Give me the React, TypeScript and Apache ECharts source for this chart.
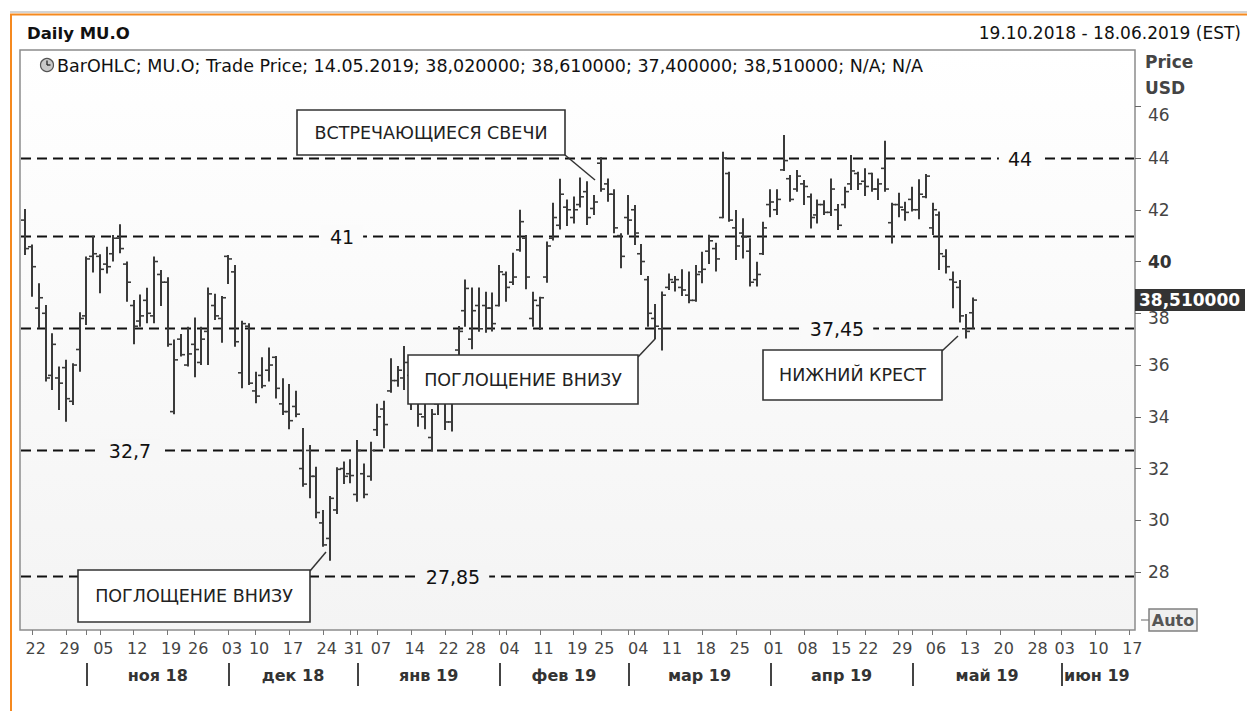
import { useEffect, useRef } from 'react';
import * as echarts from 'echarts';

// ---------- data ----------
const HOLIDAYS = ['2018-11-22', '2018-12-05', '2018-12-25', '2019-01-01', '2019-01-21', '2019-02-18', '2019-04-19', '2019-05-27'];

function tradingDays(from: string, to: string): string[] {
  const out: string[] = [];
  const d = new Date(from + 'T00:00:00Z');
  const end = new Date(to + 'T00:00:00Z').getTime();
  while (d.getTime() <= end) {
    const wd = d.getUTCDay();
    const s = d.toISOString().slice(0, 10);
    if (wd !== 0 && wd !== 6 && HOLIDAYS.indexOf(s) < 0) out.push(s);
    d.setUTCDate(d.getUTCDate() + 1);
  }
  return out;
}
const DATES = tradingDays('2018-10-19', '2019-06-18');

const OPEN = [
  41.6, 40.57, 38.2, 38.0, 35.6, 35.5,
  35.9, 34.6, 36.6, 37.9, 40.2,
  40.2, 39.9, 40.3, 40.9, 39.9,
  38.3, 37.7, 38.5, 37.9, 39.5,
  39.2, 34.2, 37.0, 36.0,
  36.8, 36.1, 37.3, 38.3, 37.8,
  40.2, 39.6, 35.7, 37.5,
  35.0, 35.6, 35.8, 36.3, 34.5,
  34.2, 34.4, 32.0, 32.7, 31.7,
  29.9, 29.3, 30.4, 32.0,
  31.8, 31.0, 31.8, 31.7,
  33.5, 34.3, 35.0, 35.4, 35.5,
  35.6, 35.0, 34.0, 33.2, 34.5,
  34.9, 33.8, 36.58, 38.1,
  37.0, 38.3, 38.3, 38.2, 38.3,
  39.5, 39.2, 40.45, 40.9, 37.8,
  38.3, 39.4, 40.9, 41.4, 42.1,
  41.7, 42.2, 42.7, 42.05,
  43.8, 43.0, 42.6, 41.0, 41.7,
  42.0, 40.3, 39.3, 37.8, 37.4,
  39.0, 39.2, 39.0, 38.7, 38.5,
  39.6, 40.4, 40.5, 41.7, 43.4,
  41.3, 41.1, 40.4, 39.3, 40.3,
  42.2, 42.0, 43.54, 43.2, 42.8,
  43.0, 42.5, 41.8, 42.2, 41.9,
  42.0, 42.2, 43.0, 43.4,
  43.1, 43.4, 42.8, 43.6, 41.5,
  42.2, 42.0, 42.4, 42.0, 42.5,
  41.3, 41.8, 40.2, 39.3, 39.0,
  37.4, 38.02,
];
const HIGH = [
  42.03, 40.66, 39.16, 38.32, 37.23, 35.94,
  36.2, 36.07, 38.04, 40.19, 41.0,
  40.28, 40.57, 41.02, 41.44, 40.0,
  38.51, 38.73, 38.99, 40.19, 39.67,
  39.39, 36.99, 37.2, 37.48,
  37.84, 37.48, 39.0, 38.75, 38.67,
  40.25, 39.87, 37.71, 37.61,
  35.74, 36.3, 36.68, 36.35, 35.49,
  35.27, 35.01, 33.57, 32.91, 32.07,
  30.4, 30.94, 32.05, 32.27,
  32.36, 33.1, 32.2, 33.04,
  34.5, 34.62, 36.26, 35.96, 36.74,
  35.8, 35.6, 35.2, 34.3, 35.5,
  35.0, 35.2, 37.51, 39.31,
  39.0, 39.0, 38.83, 38.8, 39.87,
  39.61, 40.34, 42.0, 41.02, 38.83,
  38.64, 40.77, 42.27, 43.2, 42.4,
  42.51, 43.25, 43.1, 42.57,
  44.03, 43.21, 42.79, 41.09, 42.57,
  42.18, 40.68, 39.44, 38.36, 38.84,
  39.54, 39.44, 39.7, 39.61, 39.87,
  40.38, 41.03, 40.73, 44.24, 43.47,
  41.99, 41.67, 40.9, 39.99, 41.54,
  42.79, 42.79, 44.89, 43.34, 43.54,
  43.15, 42.63, 42.4, 42.37, 43.21,
  42.22, 42.89, 44.12, 43.47,
  43.6, 43.43, 43.21, 44.67, 42.27,
  42.66, 42.31, 42.89, 43.18, 43.38,
  42.27, 41.93, 40.47, 39.61, 39.29,
  37.97, 38.61,
];
const LOW = [
  40.25, 38.64, 37.42, 35.36, 35.04, 34.26,
  33.81, 34.46, 35.74, 37.55, 39.58,
  38.77, 39.54, 40.0, 40.32, 38.45,
  36.8, 37.48, 37.61, 37.61, 38.28,
  36.71, 34.1, 36.33, 35.94,
  35.53, 36.0, 36.0, 37.74, 36.86,
  39.13, 36.71, 35.1, 35.23,
  34.52, 35.1, 35.36, 34.71, 34.07,
  33.52, 33.98, 31.3, 30.85, 30.08,
  28.98, 28.44, 30.24, 31.4,
  31.43, 30.72, 30.85, 31.53,
  33.26, 32.78, 34.93, 35.16, 35.04,
  34.26, 33.62, 33.52, 32.65, 34.07,
  33.49, 33.43, 35.8, 37.48,
  36.61, 37.29, 37.25, 37.3, 38.26,
  38.45, 39.09, 40.38, 38.93, 37.48,
  37.35, 39.18, 40.81, 41.24, 41.37,
  41.47, 42.09, 41.41, 41.8,
  42.7, 42.31, 41.09, 39.74, 41.03,
  40.64, 39.48, 37.48, 37.0, 36.56,
  38.9, 38.84, 38.67, 38.39, 38.45,
  39.16, 39.9, 39.61, 41.67, 41.54,
  40.06, 40.12, 39.03, 39.03, 40.25,
  41.71, 41.8, 43.5, 42.31, 42.7,
  42.18, 41.28, 41.47, 41.8, 41.76,
  41.22, 42.06, 42.76, 42.76,
  42.53, 42.7, 42.38, 42.7, 40.7,
  41.71, 41.58, 41.93, 41.63, 42.44,
  41.02, 39.67, 39.54, 38.19, 37.64,
  37.03, 37.40,
];
const CLOSE = [
  40.5, 39.8, 38.6, 35.5, 36.8, 35.3,
  34.7, 36.0, 37.8, 40.1, 40.3,
  39.7, 39.8, 40.9, 40.5, 39.2,
  37.5, 37.9, 38.0, 40.0, 39.2,
  36.8, 36.2, 36.4, 36.43,
  36.6, 37.0, 38.75, 37.9, 38.6,
  40.1, 36.9, 37.6, 35.3,
  34.8, 35.2, 36.0, 35.1, 34.2,
  33.85, 34.1, 31.4, 31.7, 30.3,
  29.05, 30.85, 31.97, 31.7,
  31.73, 32.7, 31.0, 32.7,
  34.0, 33.7, 35.4, 35.8, 36.1,
  34.8, 34.1, 34.9, 34.1, 35.3,
  33.8, 34.9, 37.3, 38.96,
  38.1, 37.4, 38.2, 37.6, 39.6,
  39.0, 39.4, 41.54, 39.4, 38.5,
  38.6, 40.6, 41.7, 42.6, 42.0,
  42.0, 42.5, 41.7, 42.3,
  42.8, 42.6, 41.3, 40.2, 41.6,
  41.1, 40.0, 38.0, 37.5, 38.7,
  39.3, 39.3, 38.9, 38.5, 39.5,
  39.7, 40.8, 40.1, 44.0, 41.6,
  40.6, 40.95, 39.2, 39.5, 41.3,
  42.3, 42.4, 43.9, 42.4, 43.3,
  42.9, 41.7, 42.2, 41.9, 42.8,
  41.4, 42.7, 43.5, 43.0,
  42.9, 42.8, 43.0, 42.8, 42.2,
  42.1, 41.9, 42.0, 42.6, 43.3,
  42.0, 40.3, 39.8, 39.2, 37.9,
  37.3, 38.51,
];

const PRICE_TICKS = [28, 30, 32, 34, 36, 38, 40, 42, 44, 46];
const LEVELS = [44, 41, 37.45, 32.7, 27.85];
const LEVEL_TEXT = ['44', '41', '37,45', '32,7', '27,85'];
const MONTH_LABELS = ['ноя 18', 'дек 18', 'янв 19', 'фев 19', 'мар 19', 'апр 19', 'май 19', 'июн 19'];
const LAST_PRICE = 38.51;
const LAST_PRICE_TEXT = '38,510000';
const TITLE = 'Daily MU.O';
const RANGE_TEXT = '19.10.2018 - 18.06.2019 (EST)';
const LEGEND_TEXT = 'BarOHLC; MU.O; Trade Price; 14.05.2019; 38,020000; 38,610000; 37,400000; 38,510000; N/A; N/A';
const NOTE_TEXT = ['ВСТРЕЧАЮЩИЕСЯ СВЕЧИ', 'ПОГЛОЩЕНИЕ ВНИЗУ', 'НИЖНИЙ КРЕСТ', 'ПОГЛОЩЕНИЕ ВНИЗУ'];

// ---------- layout ----------
const W = 1247;
const H = 711;
const BOX = { x: 20, y: 50, w: 1115, h: 580 };
const Y_MIN = 25.762;
const Y_MAX = 48.173;
const LEVEL_LABEL_X = [1020, 342, 837, 130, 453];
const NOTE_BOX = [
  { x: 297, y: 110, w: 268, h: 45, l: [565, 155, 595, 180] },
  { x: 408, y: 355, w: 230, h: 49, l: [638, 357, 655, 339] },
  { x: 763, y: 350, w: 179, h: 50, l: [942, 351, 958, 336] },
  { x: 78, y: 570, w: 232, h: 52, l: [310, 571, 326, 552] },
];
const FONT = '"DejaVu Sans", Verdana, sans-serif';
const BAR_COLOR = '#3a3a3a';

const WEEK_IDX = new Set<number>();
const MONTH_IDX: number[] = [];
DATES.forEach((d, k) => {
  if (k === 0) return;
  const cur = new Date(d + 'T00:00:00Z');
  const prev = new Date(DATES[k - 1] + 'T00:00:00Z');
  if (cur.getUTCDay() <= prev.getUTCDay() || cur.getTime() - prev.getTime() >= 7 * 86400000) WEEK_IDX.add(k);
  if (cur.getUTCMonth() !== prev.getUTCMonth()) MONTH_IDX.push(k);
});
const TICK_IDX = new Set<number>([...Array.from(WEEK_IDX), ...MONTH_IDX]);

function bgAt(y: number): string {
  const t = Math.max(0, Math.min(1, (y - BOX.y) / BOX.h));
  const c = Math.round(255 - 11 * t);
  return `rgb(${c},${c},${c})`;
}

function buildOption(): any {
  const data = OPEN.map((o, i) => [i, o, HIGH[i], LOW[i], CLOSE[i]]);
  return {
    animation: false,
    backgroundColor: '#ffffff',
    grid: { left: 22, right: 108, top: BOX.y, bottom: H - BOX.y - BOX.h },
    xAxis: {
      type: 'category',
      data: DATES,
      boundaryGap: true,
      axisLine: { show: false },
      axisTick: {
        show: true,
        alignWithLabel: true,
        interval: (idx: number) => TICK_IDX.has(idx),
        length: 5,
        lineStyle: { color: '#777', width: 1 },
      },
      axisLabel: {
        interval: (idx: number) => WEEK_IDX.has(idx),
        formatter: (v: string) => v.slice(8, 10),
        fontSize: 16,
        fontFamily: FONT,
        color: '#444',
        margin: 10,
        padding: [0, 0, 0, 7],
      },
      splitLine: { show: false },
    },
    yAxis: {
      type: 'value',
      position: 'right',
      offset: -4,
      min: Y_MIN,
      max: Y_MAX,
      axisLine: { show: false },
      splitLine: { show: false },
      axisTick: { show: true, customValues: PRICE_TICKS, length: 6, lineStyle: { color: '#666' } },
      axisLabel: {
        customValues: PRICE_TICKS,
        margin: 13,
        fontSize: 17,
        fontFamily: FONT,
        color: '#444',
        formatter: (v: number) => (v === 46 ? '{s|46}' : v === 40 ? '{b|40}' : v === 38 ? '{d|38}' : String(v)),
        rich: {
          s: { padding: [18, 0, 0, 0], fontSize: 17, fontFamily: FONT, color: '#444' },
          d: { padding: [10, 0, 0, 0], fontSize: 17, fontFamily: FONT, color: '#444' },
          b: { fontWeight: 'bold', fontSize: 17, fontFamily: FONT, color: '#333' },
        },
      },
    },
    series: [
      {
        type: 'custom',
        z: 5,
        silent: true,
        encode: { x: 0, y: [1, 2, 3, 4] },
        data,
        renderItem: (_p: any, api: any) => {
          const i = api.value(0);
          const pO = api.coord([i, api.value(1)]);
          const pH = api.coord([i, api.value(2)]);
          const pL = api.coord([i, api.value(3)]);
          const pC = api.coord([i, api.value(4)]);
          const x = Math.round(pH[0]);
          const st = { stroke: BAR_COLOR, lineWidth: 2 };
          const ts = { stroke: BAR_COLOR, lineWidth: 1.6 };
          return {
            type: 'group',
            children: [
              { type: 'line', shape: { x1: x, y1: pH[1], x2: x, y2: pL[1] }, style: st },
              { type: 'line', shape: { x1: x - 4, y1: pO[1], x2: x, y2: pO[1] }, style: ts },
              { type: 'line', shape: { x1: x, y1: pC[1], x2: x + 4, y2: pC[1] }, style: ts },
            ],
          };
        },
      },
    ],
  };
}

function buildGraphics(chart: any): any[] {
  const yOf = (v: number) => chart.convertToPixel({ yAxisIndex: 0 }, v) as number;
  const xOf = (k: number) => chart.convertToPixel({ xAxisIndex: 0 }, DATES[k]) as number;
  const els: any[] = [];

  // frame lines
  els.push({ type: 'line', z: 1, shape: { x1: 10, y1: 12, x2: W, y2: 12 }, style: { stroke: '#a8a8a8', lineWidth: 1 } });
  els.push({ type: 'line', z: 1, shape: { x1: 10, y1: 14.5, x2: W, y2: 14.5 }, style: { stroke: '#f5891f', lineWidth: 2 } });
  els.push({ type: 'line', z: 1, shape: { x1: 11, y1: 14, x2: 11, y2: H }, style: { stroke: '#f5891f', lineWidth: 2 } });

  // header
  els.push({ type: 'text', z: 20, x: 27, y: 33, style: { text: TITLE, fill: '#111', fontSize: 16.5, fontWeight: 'bold', fontFamily: FONT, align: 'left', verticalAlign: 'middle' } });
  els.push({ type: 'text', z: 20, x: 1241, y: 33, style: { text: RANGE_TEXT, fill: '#111', fontSize: 17, fontFamily: FONT, align: 'right', verticalAlign: 'middle' } });

  // plot box
  els.push({
    type: 'rect', z: 0,
    shape: { x: BOX.x, y: BOX.y, width: BOX.w, height: BOX.h },
    style: {
      fill: new echarts.graphic.LinearGradient(0, 0, 0, 1, [
        { offset: 0, color: '#ffffff' },
        { offset: 1, color: '#f4f4f4' },
      ]),
      stroke: '#8c8c8c',
      lineWidth: 1.5,
    },
  });

  // legend line with clock icon
  els.push({ type: 'circle', z: 20, shape: { cx: 47, cy: 65, r: 6.5 }, style: { fill: '#c9c9c9', stroke: '#555', lineWidth: 1.2 } });
  els.push({ type: 'line', z: 21, shape: { x1: 47, y1: 65, x2: 47, y2: 60.5 }, style: { stroke: '#222', lineWidth: 1.3 } });
  els.push({ type: 'line', z: 21, shape: { x1: 47, y1: 65, x2: 50.5, y2: 65 }, style: { stroke: '#222', lineWidth: 1.3 } });
  els.push({ type: 'text', z: 20, x: 57, y: 66, style: { text: LEGEND_TEXT, fill: '#111', fontSize: 17.5, fontFamily: FONT, align: 'left', verticalAlign: 'middle' } });

  // price axis title
  els.push({ type: 'text', z: 20, x: 1145, y: 62, style: { text: 'Price', fill: '#444', fontSize: 17, fontWeight: 'bold', fontFamily: FONT, align: 'left', verticalAlign: 'middle' } });
  els.push({ type: 'text', z: 20, x: 1145, y: 88, style: { text: 'USD', fill: '#444', fontSize: 17, fontWeight: 'bold', fontFamily: FONT, align: 'left', verticalAlign: 'middle' } });

  // horizontal levels
  LEVELS.forEach((v, i) => {
    const y = Math.round(yOf(v)) + 0.5;
    els.push({ type: 'line', z: 1, shape: { x1: BOX.x + 1, y1: y, x2: BOX.x + BOX.w - 1, y2: y }, style: { stroke: '#111', lineWidth: 2, lineDash: [10, 6] } });
    els.push({
      type: 'text', z: 3, x: LEVEL_LABEL_X[i], y: y,
      style: { text: LEVEL_TEXT[i], fill: '#111', fontSize: 19, fontFamily: FONT, align: 'center', verticalAlign: 'middle', backgroundColor: bgAt(y), padding: [2, 9, 2, 9] },
    });
  });

  // annotation boxes
  NOTE_BOX.forEach((b, i) => {
    els.push({ type: 'line', z: 30, shape: { x1: b.l[0], y1: b.l[1], x2: b.l[2], y2: b.l[3] }, style: { stroke: '#333', lineWidth: 1.5 } });
    els.push({ type: 'rect', z: 31, shape: { x: b.x, y: b.y, width: b.w, height: b.h }, style: { fill: '#ffffff', stroke: '#333', lineWidth: 1.6 } });
    els.push({ type: 'text', z: 32, x: b.x + b.w / 2, y: b.y + b.h / 2, style: { text: NOTE_TEXT[i], fill: '#222', fontSize: 17.5, fontFamily: FONT, align: 'center', verticalAlign: 'middle' } });
  });

  // last price tag
  const yP = yOf(LAST_PRICE);
  els.push({ type: 'rect', z: 40, shape: { x: 1135, y: yP - 11, width: 110, height: 22 }, style: { fill: '#333333' } });
  els.push({ type: 'text', z: 41, x: 1139, y: yP, style: { text: LAST_PRICE_TEXT, fill: '#ffffff', fontSize: 17, fontWeight: 'bold', fontFamily: FONT, align: 'left', verticalAlign: 'middle' } });

  // Auto button
  els.push({ type: 'line', z: 20, shape: { x1: 1141, y1: 620, x2: 1149, y2: 620 }, style: { stroke: '#666', lineWidth: 1 } });
  els.push({ type: 'rect', z: 20, shape: { x: 1149, y: 609, width: 48, height: 22 }, style: { fill: '#efefef', stroke: '#808080', lineWidth: 1.5 } });
  els.push({ type: 'text', z: 21, x: 1173, y: 620.5, style: { text: 'Auto', fill: '#555', fontSize: 16, fontWeight: 'bold', fontFamily: FONT, align: 'center', verticalAlign: 'middle' } });

  // month separators and names
  MONTH_IDX.forEach((k, m) => {
    const x0 = Math.round(xOf(k)) + 1;
    els.push({ type: 'line', z: 20, shape: { x1: x0, y1: 663, x2: x0, y2: 686 }, style: { stroke: '#444', lineWidth: 2 } });
    if (m < MONTH_IDX.length - 1) {
      const x1 = xOf(MONTH_IDX[m + 1]);
      els.push({ type: 'text', z: 20, x: (x0 + x1) / 2, y: 675, style: { text: MONTH_LABELS[m], fill: '#333', fontSize: 16, fontWeight: 'bold', fontFamily: FONT, align: 'center', verticalAlign: 'middle' } });
    } else {
      els.push({ type: 'text', z: 20, x: x0 + 2, y: 675, style: { text: MONTH_LABELS[m], fill: '#333', fontSize: 16, fontWeight: 'bold', fontFamily: FONT, align: 'left', verticalAlign: 'middle' } });
    }
  });

  return els;
}

export default function App() {
  const ref = useRef<HTMLDivElement | null>(null);
  useEffect(() => {
    if (!ref.current) return;
    const chart = echarts.init(ref.current, null, { renderer: 'svg' });
    chart.setOption(buildOption());
    chart.setOption({ graphic: { elements: buildGraphics(chart) } });
    return () => chart.dispose();
  }, []);
  return (
    <div
      ref={ref}
      style={{ position: 'fixed', left: 0, top: 0, width: W, height: H, background: '#fff' }}
    />
  );
}
